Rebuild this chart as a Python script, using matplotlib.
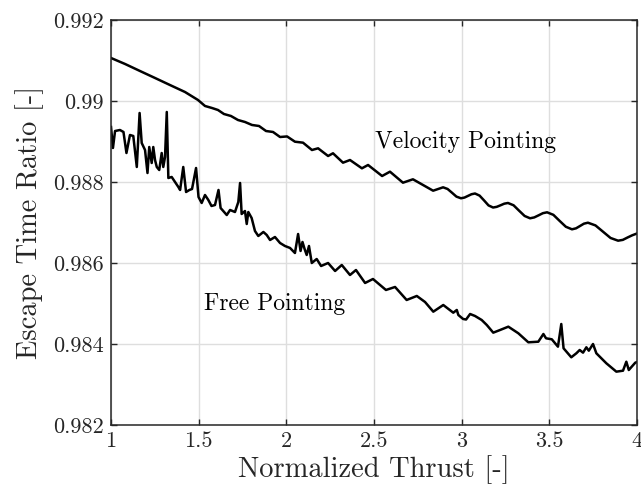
"""Escape time ratio vs normalized thrust, velocity pointing vs free pointing."""
import numpy as np
import matplotlib
matplotlib.use('Agg')
import matplotlib.pyplot as plt

plt.rcParams.update({
    "font.family": "serif", "font.serif": ["cmr10", "DejaVu Serif"],
    "axes.formatter.use_mathtext": True,
    "font.size": 13, "figure.dpi": 100, "savefig.dpi": 100,
})

# values
vel_thrust = [1.000, 1.080, 1.165, 1.251, 1.336, 1.422, 1.496, 1.536, 1.576, 1.610,
              1.644, 1.684, 1.724, 1.764, 1.804, 1.844, 1.884, 1.924, 1.964, 2.004,
              2.049, 2.095, 2.146, 2.181, 2.238, 2.266, 2.323, 2.363, 2.431, 2.466,
              2.546, 2.591, 2.665, 2.722, 2.837, 2.894, 2.9195, 2.945, 2.970, 2.996,
              3.016, 3.036, 3.056, 3.076, 3.102, 3.128, 3.153, 3.179, 3.200, 3.222,
              3.243, 3.264, 3.296, 3.327, 3.359, 3.390, 3.414, 3.439, 3.463, 3.487,
              3.523, 3.558, 3.594, 3.629, 3.652, 3.675, 3.697, 3.720, 3.763, 3.806,
              3.849, 3.892, 3.919, 3.946, 3.973, 4.000]
vel_ratio = [0.991062, 0.990914, 0.990741, 0.990568, 0.990395, 0.990222, 0.990025, 0.989877,
             0.989827, 0.989778, 0.989679, 0.989630, 0.989531, 0.989482, 0.989408, 0.989383,
             0.989259, 0.989235, 0.989111, 0.989125, 0.988995, 0.988971, 0.988790, 0.988832,
             0.988642, 0.988709, 0.988477, 0.988543, 0.988338, 0.988420, 0.988148, 0.988255,
             0.987983, 0.988067, 0.987785, 0.987869, 0.987828, 0.987734, 0.987639, 0.987598,
             0.987616, 0.987657, 0.987698, 0.987716, 0.987664, 0.987543, 0.987422, 0.987370,
             0.987387, 0.987426, 0.987465, 0.987482, 0.987425, 0.987293, 0.987161, 0.987104,
             0.987126, 0.987178, 0.987230, 0.987252, 0.987189, 0.987042, 0.986895, 0.986832,
             0.986856, 0.986914, 0.986971, 0.986995, 0.986928, 0.986773, 0.986618, 0.986551,
             0.986571, 0.986630, 0.986685, 0.986729]

free_thrust = [1.000, 1.011, 1.023, 1.051, 1.071, 1.088, 1.108, 1.127, 1.147, 1.163,
               1.175, 1.194, 1.208, 1.218, 1.232, 1.241, 1.251, 1.261, 1.275, 1.289,
               1.298, 1.308, 1.318, 1.327, 1.346, 1.384, 1.394, 1.412, 1.428, 1.447,
               1.462, 1.485, 1.499, 1.517, 1.536, 1.555, 1.573, 1.593, 1.613, 1.625,
               1.640, 1.660, 1.679, 1.707, 1.726, 1.736, 1.745, 1.764, 1.774, 1.783,
               1.802, 1.821, 1.840, 1.869, 1.888, 1.907, 1.935, 1.964, 1.992, 2.021,
               2.049, 2.067, 2.081, 2.092, 2.104, 2.116, 2.129, 2.145, 2.173, 2.198,
               2.238, 2.278, 2.316, 2.363, 2.397, 2.449, 2.494, 2.568, 2.620, 2.686,
               2.744, 2.791, 2.838, 2.895, 2.952, 2.972, 2.981, 3.008, 3.025, 3.048,
               3.076, 3.114, 3.143, 3.180, 3.219, 3.266, 3.323, 3.380, 3.437, 3.466,
               3.481, 3.514, 3.549, 3.568, 3.581, 3.625, 3.654, 3.673, 3.692, 3.711,
               3.725, 3.749, 3.768, 3.825, 3.882, 3.920, 3.939, 3.953, 3.990, 4.000]
free_ratio = [0.989358, 0.988840, 0.989259, 0.989284, 0.989235, 0.988716, 0.989161, 0.989136,
              0.988371, 0.989704, 0.988963, 0.988790, 0.988222, 0.988864, 0.988469, 0.988864,
              0.988543, 0.988371, 0.988296, 0.988716, 0.988371, 0.988617, 0.989729, 0.988099,
              0.988124, 0.987877, 0.987803, 0.988371, 0.987753, 0.987803, 0.987827, 0.988346,
              0.987630, 0.987482, 0.987679, 0.987556, 0.987408, 0.987432, 0.987803, 0.987358,
              0.987284, 0.987185, 0.987309, 0.987259, 0.987506, 0.987976, 0.987210, 0.987284,
              0.986963, 0.987259, 0.987111, 0.986790, 0.986667, 0.986766, 0.986692, 0.986568,
              0.986642, 0.986494, 0.986420, 0.986371, 0.986247, 0.986716, 0.986297, 0.986519,
              0.986346, 0.986198, 0.986420, 0.986000, 0.986099, 0.985926, 0.986000, 0.985803,
              0.985951, 0.985704, 0.985827, 0.985507, 0.985605, 0.985334, 0.985408, 0.985087,
              0.985186, 0.985037, 0.984798, 0.984963, 0.984773, 0.984840, 0.984716, 0.984618,
              0.984605, 0.984741, 0.984692, 0.984593, 0.984470, 0.984280, 0.984346, 0.984428,
              0.984265, 0.984042, 0.984057, 0.984247, 0.984141, 0.984116, 0.983934, 0.984494,
              0.983894, 0.983672, 0.983771, 0.983852, 0.983786, 0.983919, 0.983835, 0.984000,
              0.983771, 0.983524, 0.983317, 0.983341, 0.983563, 0.983358, 0.983539, 0.983556]

x_ticks = [1, 1.5, 2, 2.5, 3, 3.5, 4]
x_ticklabels = ['1', '1.5', '2', '2.5', '3', '3.5', '4']
y_ticks = [0.982, 0.984, 0.986, 0.988, 0.99, 0.992]
y_ticklabels = ['0.982', '0.984', '0.986', '0.988', '0.99', '0.992']

fig = plt.figure(figsize=(6.41, 4.95))
ax = fig.add_axes([0.1732, 0.1414, 0.8206, 0.8182])

ax.plot(vel_thrust, vel_ratio, color='black', linewidth=1.8)
ax.plot(free_thrust, free_ratio, color='black', linewidth=1.8)

ax.text(2.506, 0.98884, 'Velocity Pointing', fontsize=17, va='baseline', ha='left')
ax.text(1.53, 0.98484, 'Free Pointing', fontsize=17, va='baseline', ha='left')

ax.set_xlim(1, 4)
ax.set_ylim(0.982, 0.992)
ax.set_xticks(x_ticks)
ax.set_xticklabels(x_ticklabels)
ax.set_yticks(y_ticks)
ax.set_yticklabels(y_ticklabels)
ax.grid(True, color='#dedede', linewidth=1.0)
ax.set_axisbelow(True)
ax.tick_params(direction='in', top=True, right=True, length=4, width=1.0,
               colors='#262626', labelsize=16, pad=5)
for sp in ax.spines.values():
    sp.set_color('#262626'); sp.set_linewidth(1.1)

ax.set_xlabel('Normalized Thrust [-]', fontsize=20.5, color='#262626', labelpad=3)
ax.set_ylabel('Escape Time Ratio [-]', fontsize=20.5, color='#262626', labelpad=7)

fig.savefig('out.png', dpi=100)
